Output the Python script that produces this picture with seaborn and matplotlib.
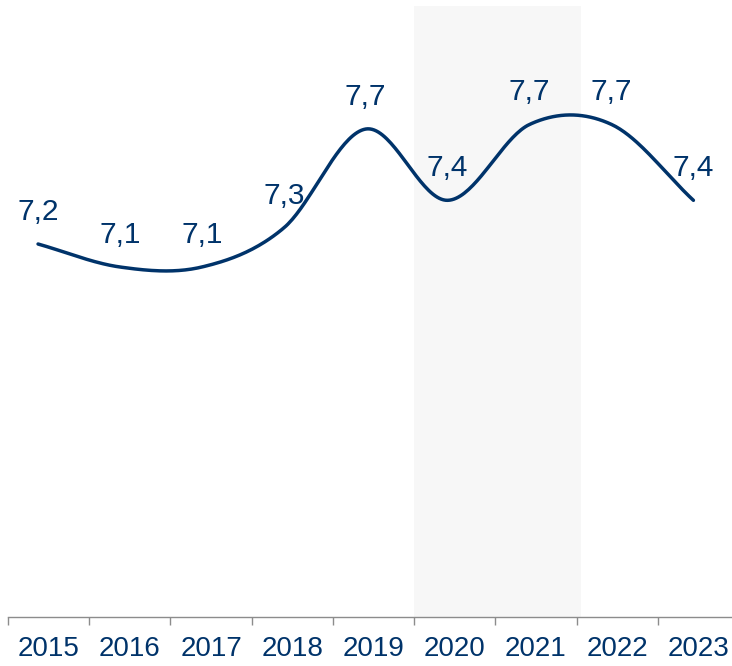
import numpy as np
import pandas as pd
import matplotlib
matplotlib.use('Agg')
import matplotlib.pyplot as plt
import seaborn as sns

# datos del grafico
anos = ['2015', '2016', '2017', '2018', '2019', '2020', '2021', '2022', '2023']
valores = [7.20, 7.10, 7.10, 7.27, 7.70, 7.39, 7.72, 7.72, 7.39]
# zona sombreada (2020-2021)
zona_inicio = 4.5
zona_fin = 6.56

azul = '#00336a'
gris = '#8c8c8c'


def suavizar(x, y, pasos=40):
    # curva suave tipo Catmull-Rom entre los puntos (como la linea suavizada de Excel)
    p = np.column_stack([x, y]).astype(float)
    p = np.vstack([2 * p[0] - p[1], p, 2 * p[-1] - p[-2]])
    t = np.linspace(0, 1, pasos)[:, None]
    trozos = []
    for i in range(1, len(p) - 2):
        a, b = p[i], p[i + 1]
        c1 = a + (p[i + 1] - p[i - 1]) / 6
        c2 = b - (p[i + 2] - p[i]) / 6
        seg = (1 - t) ** 3 * a + 3 * (1 - t) ** 2 * t * c1 + 3 * (1 - t) * t ** 2 * c2 + t ** 3 * b
        trozos.append(seg if i == 1 else seg[1:])
    return np.vstack(trozos)


sns.set_theme(style='white')
plt.rcParams['font.family'] = ['Liberation Sans', 'DejaVu Sans']

fig = plt.figure(figsize=(7.32, 6.66), dpi=100)
ax = fig.add_axes([8 / 732, 49 / 666, 731 / 732, 611 / 666])

# posiciones de la linea (un poco desplazadas respecto a las categorias)
xpos = np.arange(len(anos)) * 1.0086 - 0.13
curva = suavizar(xpos, valores)
df = pd.DataFrame({'x': curva[:, 0], 'y': curva[:, 1]})

ax.axvspan(zona_inicio, zona_fin, color='#f7f7f7', lw=0, zorder=0)
sns.lineplot(data=df, x='x', y='y', sort=False, estimator=None, color=azul,
             lw=2.5, ax=ax, zorder=3)

for x, v in zip(xpos, valores):
    ax.annotate(f'{v:.1f}'.replace('.', ','), (x, v), xytext=(0, 17.3),
                textcoords='offset points', ha='center', va='baseline',
                fontsize=21.5, color=azul)

ax.set_xlim(-0.5, len(anos) - 0.5)
ax.set_ylim(5.578, 8.235)

# marcas entre categorias y etiquetas centradas
ax.set_xticks(np.arange(len(anos) + 1) - 0.5)
ax.set_xticklabels([])
ax.set_xticks(np.arange(len(anos)), minor=True)
ax.set_xticklabels(anos, minor=True)
ax.tick_params(axis='x', which='major', bottom=True, length=8 * 0.72, width=1, color=gris)
ax.tick_params(axis='x', which='minor', bottom=True, length=0, pad=14,
               labelsize=20, labelcolor=azul)
ax.set_yticks([])
ax.set_xlabel('')
ax.set_ylabel('')

for lado in ['top', 'right', 'left']:
    ax.spines[lado].set_visible(False)
ax.spines['bottom'].set_color(gris)
ax.spines['bottom'].set_linewidth(1)

plt.savefig('out.png', dpi=100)
plt.close(fig)
